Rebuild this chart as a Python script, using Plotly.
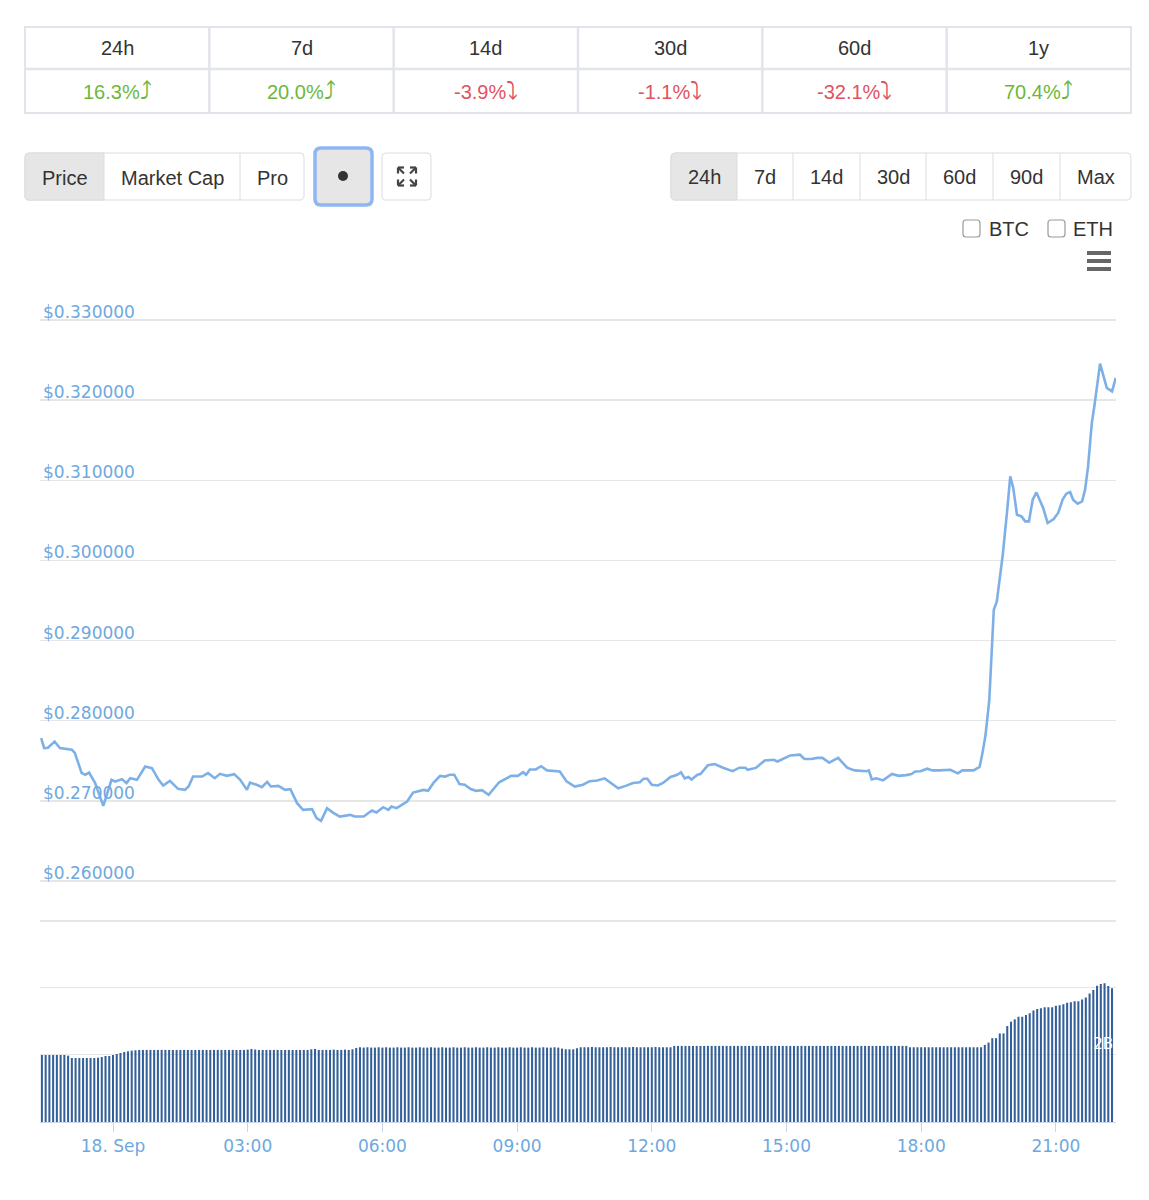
import plotly.graph_objects as go
import pandas as pd

W, H = 1149, 1200

# ---------------- data ----------------
period_labels = ["24h", "7d", "14d", "30d", "60d", "1y"]
period_changes = [16.3, 20.0, -3.9, -1.1, -32.1, 70.4]

chart_modes = ["Price", "Market Cap", "Pro"]
range_buttons = ["24h", "7d", "14d", "30d", "60d", "90d", "Max"]
compare_boxes = ["BTC", "ETH"]

day_start = "2018-09-18 00:00"
# minutes relative to 18 Sep 00:00
price_minutes = [
    -96, -92, -87, -78, -71, -55, -51, -42, -37, -32, -24, -13, -2, 3, 12, 18, 23, 32, 43, 52,
    61, 67, 76, 87, 96, 101, 107, 119, 127, 136, 143, 152, 162, 170, 179, 183, 192, 199, 206, 211,
    221, 230, 237, 246, 254, 266, 272, 278, 286, 294, 303, 317, 323, 335, 346, 352, 361, 368, 372, 379,
    386, 393, 401, 410, 415, 421, 428, 437, 444, 450, 456, 463, 470, 478, 485, 493, 502, 516, 525, 532,
    541, 548, 552, 557, 565, 572, 580, 597, 606, 617, 628, 637, 647, 657, 664, 675, 685, 695, 704, 709,
    714, 720, 728, 735, 745, 754, 759, 764, 769, 773, 781, 785, 795, 804, 816, 828, 837, 845, 848, 859,
    871, 883, 888, 895, 905, 918, 924, 933, 941, 948, 957, 969, 981, 991, 1007, 1010, 1014, 1020, 1029, 1041,
    1050, 1060, 1067, 1072, 1079, 1088, 1095, 1105, 1119, 1129, 1135, 1150, 1158, 1162, 1166, 1171, 1175, 1177, 1181, 1185,
    1189, 1195, 1199, 1203, 1208, 1214, 1219, 1224, 1229, 1234, 1240, 1243, 1249, 1257, 1263, 1269, 1274, 1279, 1283, 1289,
    1295, 1299, 1303, 1308, 1312, 1319, 1328, 1335, 1340,
]
price_usd = [
    0.27783, 0.27658, 0.27662, 0.27740, 0.27658, 0.27637, 0.27599, 0.27350, 0.27325, 0.27353,
    0.27225, 0.26938, 0.27262, 0.27241, 0.27271, 0.27221, 0.27283, 0.27262, 0.27428, 0.27408,
    0.27262, 0.27191, 0.27250, 0.27150, 0.27137, 0.27179, 0.27303, 0.27303, 0.27346, 0.27283,
    0.27337, 0.27312, 0.27333, 0.27262, 0.27137, 0.27228, 0.27200, 0.27171, 0.27237, 0.27179,
    0.27187, 0.27137, 0.27146, 0.26971, 0.26888, 0.26896, 0.26784, 0.26750, 0.26909, 0.26854,
    0.26804, 0.26825, 0.26804, 0.26804, 0.26879, 0.26854, 0.26921, 0.26888, 0.26929, 0.26909,
    0.26950, 0.26991, 0.27104, 0.27125, 0.27137, 0.27125, 0.27221, 0.27312, 0.27303, 0.27325,
    0.27326, 0.27210, 0.27201, 0.27147, 0.27125, 0.27134, 0.27076, 0.27232, 0.27281, 0.27312,
    0.27312, 0.27357, 0.27326, 0.27392, 0.27392, 0.27432, 0.27380, 0.27366, 0.27245, 0.27179,
    0.27201, 0.27245, 0.27255, 0.27281, 0.27232, 0.27156, 0.27187, 0.27223, 0.27232, 0.27276,
    0.27276, 0.27201, 0.27192, 0.27223, 0.27298, 0.27326, 0.27357, 0.27281, 0.27298, 0.27267,
    0.27326, 0.27335, 0.27446, 0.27459, 0.27411, 0.27370, 0.27414, 0.27414, 0.27388, 0.27411,
    0.27504, 0.27513, 0.27491, 0.27526, 0.27567, 0.27576, 0.27522, 0.27522, 0.27536, 0.27536,
    0.27477, 0.27536, 0.27414, 0.27380, 0.27370, 0.27380, 0.27267, 0.27281, 0.27255, 0.27335,
    0.27312, 0.27321, 0.27335, 0.27366, 0.27370, 0.27401, 0.27380, 0.27380, 0.27388, 0.27343,
    0.27380, 0.27380, 0.27423, 0.27602, 0.27824, 0.28261, 0.29010, 0.29384, 0.29484, 0.29759,
    0.30071, 0.30633, 0.31049, 0.30904, 0.30570, 0.30549, 0.30487, 0.30487, 0.30758, 0.30849,
    0.30716, 0.30654, 0.30467, 0.30517, 0.30592, 0.30758, 0.30833, 0.30854, 0.30758, 0.30708,
    0.30736, 0.30883, 0.31173, 0.31715, 0.31965, 0.32455, 0.32152, 0.32110, 0.32277,
]

volume_start = "2018-09-17 22:25"
volume_step_minutes = 5
volume_billion = [
    1.99, 1.99, 1.99, 1.99, 1.99, 1.99, 1.99, 1.97,
    1.90, 1.90, 1.90, 1.90, 1.90, 1.90, 1.90, 1.91, 1.93,
    1.96, 1.96, 1.99, 2.02, 2.05, 2.08, 2.10,
    2.12, 2.13, 2.14, 2.14, 2.14, 2.14, 2.14, 2.14, 2.14, 2.14,
    2.14, 2.14, 2.14, 2.14, 2.14, 2.14, 2.14, 2.14, 2.14, 2.14,
    2.14, 2.14, 2.14, 2.14, 2.14, 2.14, 2.14, 2.14, 2.14, 2.14,
    2.14, 2.15, 2.17, 2.15, 2.14, 2.14, 2.14, 2.14, 2.14, 2.14,
    2.14, 2.14, 2.14, 2.14, 2.14, 2.14, 2.14, 2.14, 2.16, 2.17,
    2.14, 2.14, 2.14, 2.14, 2.15, 2.14, 2.14, 2.15, 2.14, 2.16,
    2.20, 2.22, 2.21, 2.22, 2.21, 2.21, 2.22, 2.21, 2.22, 2.21,
    2.21, 2.22, 2.21, 2.21, 2.22, 2.21, 2.21, 2.22, 2.21, 2.21,
    2.22, 2.21, 2.21, 2.22, 2.21, 2.21, 2.22, 2.21, 2.21, 2.22,
    2.21, 2.21, 2.22, 2.21, 2.21, 2.22, 2.21, 2.21, 2.22, 2.21,
    2.21, 2.22, 2.21, 2.21, 2.22, 2.21, 2.21, 2.22, 2.21, 2.21,
    2.22, 2.21, 2.21, 2.22, 2.21,
    2.18, 2.16, 2.16, 2.16, 2.19,
    2.22, 2.22, 2.22, 2.23, 2.22, 2.22, 2.22, 2.22, 2.23, 2.22,
    2.22, 2.22, 2.22, 2.22, 2.23, 2.22, 2.22, 2.22, 2.22, 2.22,
    2.23, 2.22, 2.22, 2.22, 2.22,
    2.26, 2.26, 2.26, 2.26, 2.26, 2.26, 2.26, 2.26, 2.26, 2.26,
    2.26, 2.26, 2.26, 2.26, 2.26, 2.26, 2.26, 2.26, 2.26, 2.26,
    2.26, 2.26, 2.26, 2.26, 2.26, 2.26, 2.26, 2.26, 2.26, 2.26,
    2.26, 2.26, 2.26, 2.26, 2.26, 2.26, 2.26, 2.26, 2.26, 2.26,
    2.26, 2.26, 2.26, 2.26, 2.26, 2.26, 2.26, 2.26, 2.26, 2.26,
    2.26, 2.26, 2.26, 2.26, 2.26, 2.26, 2.26, 2.26, 2.26, 2.26,
    2.26, 2.26, 2.26,
    2.22, 2.22, 2.22, 2.22, 2.22, 2.22, 2.22, 2.22, 2.22, 2.22,
    2.22, 2.22, 2.22, 2.22, 2.22, 2.22, 2.22, 2.22, 2.22, 2.22,
    2.29, 2.36, 2.49, 2.49, 2.63, 2.63, 2.85, 2.98, 3.05, 3.13,
    3.13, 3.18, 3.23, 3.31, 3.36, 3.38, 3.41, 3.41, 3.41, 3.45,
    3.47, 3.50, 3.54, 3.56, 3.59, 3.59, 3.64, 3.70, 3.82, 3.92,
    4.05, 4.10, 4.12, 4.04, 3.97,
]

x_tick_times = ["2018-09-18 00:00", "2018-09-18 03:00", "2018-09-18 06:00", "2018-09-18 09:00",
                "2018-09-18 12:00", "2018-09-18 15:00", "2018-09-18 18:00", "2018-09-18 21:00"]
x_tick_text = ["18. Sep", "03:00", "06:00", "09:00", "12:00", "15:00", "18:00", "21:00"]
price_ticks = [0.26, 0.27, 0.28, 0.29, 0.30, 0.31, 0.32, 0.33]
price_tick_text = ["$0.260000", "$0.270000", "$0.280000", "$0.290000",
                   "$0.300000", "$0.310000", "$0.320000", "$0.330000"]
volume_ticks = [0.0, 2.0, 4.0]
volume_tick_text = ["", "2B", ""]

# ---------------- derived series ----------------
base = pd.Timestamp(day_start)
price_time = [base + pd.Timedelta(minutes=m) for m in price_minutes]
vstart = pd.Timestamp(volume_start)
volume_time = [vstart + pd.Timedelta(minutes=volume_step_minutes * i) for i in range(len(volume_billion))]

# ---------------- geometry helpers (pixels -> paper) ----------------
def PX(x):
    return x / W


def PY(y):
    return 1 - y / H


# x axis: 00:00 at pixel 113, 44.9 px per hour, plot from 40 to 1116
PX_PER_HOUR = 44.9
x_left = base + pd.Timedelta(hours=(40 - 113) / PX_PER_HOUR)
x_right = base + pd.Timedelta(hours=(1116 - 113) / PX_PER_HOUR)

# price axis: 0.33 at px 320, 0.26 at px 881 (room above top line for its label)
p_scale = (881 - 320) / 0.07
p_lo, p_hi = 0.2551, 0.3328
p_top_px = 320 - (p_hi - 0.33) * p_scale
p_bot_px = 881 + (0.26 - p_lo) * p_scale

# volume axis: 0 at px 1122, 6B at px 920
v_scale = (1122 - 920) / 6.0
v_hi = 6.05
v_top_px = 1122 - v_hi * v_scale

TICK_BLUE = "#6ea8e0"
GRID = "#e6e6e6"

fig = go.Figure()

fig.add_trace(go.Bar(
    x=volume_time, y=volume_billion, xaxis="x2", yaxis="y2",
    marker=dict(color="#34609a", line=dict(width=0)),
    width=volume_step_minutes * 60 * 1000 * 0.55,
    hoverinfo="skip", showlegend=False,
))
fig.add_trace(go.Scatter(
    x=price_time, y=price_usd, xaxis="x", yaxis="y", mode="lines",
    line=dict(color="#7eb0e8", width=2.6), hoverinfo="skip", showlegend=False,
))

fig.update_layout(
    width=W, height=H, margin=dict(l=0, r=0, t=0, b=0),
    paper_bgcolor="white", plot_bgcolor="rgba(0,0,0,0)",
    bargap=0.45,
    xaxis=dict(domain=[PX(40), PX(1116)], anchor="y", range=[x_left, x_right], type="date",
               showticklabels=False, showgrid=False, zeroline=False,
               showline=True, linecolor=GRID, linewidth=1.3, ticks=""),
    yaxis=dict(domain=[PY(p_bot_px), PY(p_top_px)], anchor="x", range=[p_lo, p_hi],
               tickvals=price_ticks, ticktext=price_tick_text,
               ticklabelposition="inside top", side="left", ticklabelshift=4,
               tickfont=dict(family="DejaVu Sans", size=17, color=TICK_BLUE),
               showgrid=True, gridcolor=GRID, gridwidth=1.3, zeroline=False, showline=False, ticks=""),
    xaxis2=dict(domain=[PX(40), PX(1116)], anchor="y2", range=[x_left, x_right], type="date",
                tickvals=x_tick_times, ticktext=x_tick_text,
                tickfont=dict(family="DejaVu Sans", size=17, color=TICK_BLUE),
                showgrid=False, zeroline=False, showline=True, linecolor="#ccd6eb", linewidth=1,
                ticks="outside", ticklen=9, tickcolor="#ccd6eb", tickwidth=1),
    yaxis2=dict(domain=[PY(1122), PY(v_top_px)], anchor="x2", range=[0, v_hi],
                tickvals=volume_ticks, ticktext=volume_tick_text,
                ticklabelposition="inside top", side="right",
                tickfont=dict(family="DejaVu Sans", size=15, color="white"),
                showgrid=True, gridcolor=GRID, gridwidth=1.3, zeroline=False, showline=False, ticks=""),
)

shapes = []
annotations = []


def rrect(x0, y0, x1, y1, r, fill="white", line="#dcdcdc", lw=1.0, left=True, right=True):
    rl = r if left else 0
    rr = r if right else 0

    def p(x, y):
        return f"{PX(x):.6f},{PY(y):.6f}"

    path = (f"M{p(x0 + rl, y0)} L{p(x1 - rr, y0)} Q{p(x1, y0)} {p(x1, y0 + rr)} "
            f"L{p(x1, y1 - rr)} Q{p(x1, y1)} {p(x1 - rr, y1)} L{p(x0 + rl, y1)} "
            f"Q{p(x0, y1)} {p(x0, y1 - rl)} L{p(x0, y0 + rl)} Q{p(x0, y0)} {p(x0 + rl, y0)} Z")
    shapes.append(dict(type="path", xref="paper", yref="paper", path=path,
                       fillcolor=fill, line=dict(color=line, width=lw), layer="above"))


def hline(x0, x1, y, color, w):
    shapes.append(dict(type="line", xref="paper", yref="paper", x0=PX(x0), x1=PX(x1), y0=PY(y), y1=PY(y),
                       line=dict(color=color, width=w)))


def vline(x, y0, y1, color, w):
    shapes.append(dict(type="line", xref="paper", yref="paper", x0=PX(x), x1=PX(x), y0=PY(y0), y1=PY(y1),
                       line=dict(color=color, width=w)))


def seg(x0, y0, x1, y1, color, w):
    shapes.append(dict(type="line", xref="paper", yref="paper", x0=PX(x0), x1=PX(x1), y0=PY(y0), y1=PY(y1),
                       line=dict(color=color, width=w)))


def text(x, y, s, size=20, color="#333333", family="Liberation Sans, Arial, sans-serif", xanchor="center"):
    annotations.append(dict(xref="paper", yref="paper", x=PX(x), y=PY(y), text=s, showarrow=False,
                            xanchor=xanchor, yanchor="middle",
                            font=dict(size=size, color=color, family=family)))


# ---- stats table ----
TB = "#e1e4ea"
tbl_x0, tbl_x1, tbl_y0, tbl_mid, tbl_y1 = 25, 1131, 27, 69, 113
col_w = (tbl_x1 - tbl_x0) / len(period_labels)
shapes.append(dict(type="rect", xref="paper", yref="paper", x0=PX(tbl_x0), x1=PX(tbl_x1),
                   y0=PY(tbl_y1), y1=PY(tbl_y0), line=dict(color=TB, width=2), fillcolor="white"))
hline(tbl_x0, tbl_x1, tbl_mid, TB, 2.5)
for i in range(1, len(period_labels)):
    vline(tbl_x0 + i * col_w, tbl_y0, tbl_y1, TB, 2.5)
for i, (lab, chg) in enumerate(zip(period_labels, period_changes)):
    cx = tbl_x0 + (i + 0.5) * col_w
    text(cx, 48, lab, size=20)
    if chg >= 0:
        text(cx, 91, f"{chg:.1f}%<span style='font-size:24px'>⤴</span>", size=20, color="#6cb83c")
    else:
        text(cx, 91, f"{chg:.1f}%<span style='font-size:24px'>⤵</span>", size=20, color="#e0525f")

# ---- chart mode buttons ----
BB = "#dcdcdc"
rrect(25, 153, 304, 200, 4, fill="white", line=BB)
rrect(25, 153, 104, 200, 4, fill="#e6e6e6", line=BB, right=False)
vline(240, 153, 200, BB, 1)
mode_x = [(25, 104), (104, 240), (240, 304)]
for (a, b), lab in zip(mode_x, chart_modes):
    text((a + b) / 2, 178, lab, size=20)

# dot button
rrect(315, 148, 372, 205, 6, fill="#e6e6e6", line="#8fb6f3", lw=3.5)
shapes.append(dict(type="circle", xref="paper", yref="paper", x0=PX(338), x1=PX(348), y0=PY(181), y1=PY(171),
                   fillcolor="#333333", line=dict(width=0)))

# expand button
rrect(382, 153, 431, 200, 4, fill="white", line=BB)
IC = "#444444"
cx, cy = 407, 176.5
for sx in (-1, 1):
    for sy in (-1, 1):
        tipx, tipy = cx + sx * 9, cy + sy * 9
        seg(cx + sx * 3, cy + sy * 3, tipx, tipy, IC, 2.2)
        seg(tipx, tipy, tipx - sx * 6, tipy, IC, 2.2)
        seg(tipx, tipy, tipx, tipy - sy * 6, IC, 2.2)

# ---- range buttons ----
rb_edges = [671, 737, 793, 860, 926, 993, 1060, 1131]
rrect(671, 153, 1131, 200, 4, fill="white", line=BB)
rrect(671, 153, 737, 200, 4, fill="#e6e6e6", line=BB, right=False)
for e in rb_edges[2:-1]:
    vline(e, 153, 200, BB, 1)
for i, lab in enumerate(range_buttons):
    text((rb_edges[i] + rb_edges[i + 1]) / 2, 177, lab, size=20)

# ---- compare checkboxes ----
for (bx, tx), lab in zip([(963, 1009), (1048, 1093)], compare_boxes):
    rrect(bx, 220, bx + 17, 237, 3, fill="white", line="#9a9a9a", lw=1.2)
    text(tx, 228.5, lab, size=20)

# ---- hamburger menu ----
for yy in (253, 261, 269):
    hline(1087, 1111, yy, "#666666", 4)

fig.update_layout(shapes=shapes, annotations=annotations)

fig.write_html("out.html", config={"displayModeBar": False, "staticPlot": True},
               post_script="document.body.style.margin='0px';")
